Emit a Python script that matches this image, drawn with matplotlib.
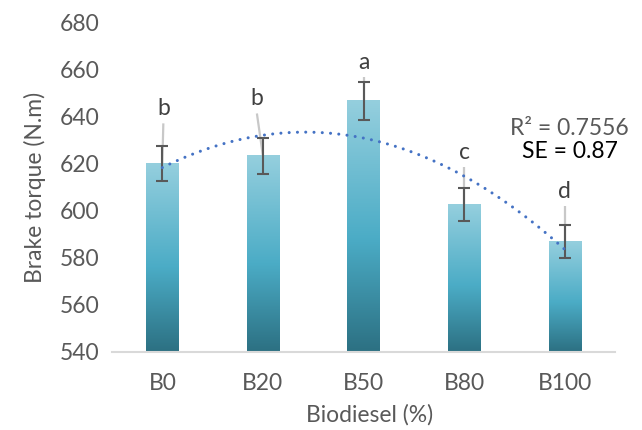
import numpy as np
import matplotlib
matplotlib.use('Agg')
import matplotlib.pyplot as plt
from matplotlib.colors import LinearSegmentedColormap

# brake torque per blend, with error and significance groups
categories = ['B0', 'B20', 'B50', 'B80', 'B100']
torque = [620.0, 623.2, 646.5, 602.4, 587.0]
torque_err = [7.5, 7.5, 8.0, 7.0, 7.0]
groups = ['b', 'b', 'a', 'c', 'd']
r2_text = 'R\u00b2 = 0.7556'
se_text = 'SE = 0.87'

# letter placement (baseline above error-bar top, horizontal nudge)
label_lift = [13.0, 14.0, 5.5, 12.5, 11.5]
label_dx = [0.01, -0.06, 0.0, 0.0, 0.0]

plt.rcParams['font.family'] = ['Lato', 'DejaVu Sans']
grey = '#595959'
fs = 16.5

fig = plt.figure(figsize=(6.42, 4.30), dpi=100)
ax = fig.add_axes([0.1745, 0.1814, 0.7835, 0.7674])
ax.set_xlim(0.5, 5.5)
ax.set_ylim(540, 680)

x = np.arange(1, len(categories) + 1)
bars = ax.bar(x, torque, width=0.32, color='none', edgecolor='none', zorder=2)

# vertical gradient fill for each bar
cmap = LinearSegmentedColormap.from_list(
    'teal', [(0.0, '#95CFDE'), (0.55, '#4BACC6'), (1.0, '#2C7082')])
grad = np.linspace(0, 1, 256).reshape(-1, 1)
ymin = ax.get_ylim()[0]
for b in bars:
    x0 = b.get_x()
    ax.imshow(grad, cmap=cmap, aspect='auto', interpolation='bicubic',
              extent=(x0, x0 + b.get_width(), ymin, b.get_height()),
              origin='upper', zorder=2)

# leader lines from group letters
for i in range(len(x)):
    base = torque[i] + torque_err[i] + label_lift[i]
    ax.plot([x[i] + label_dx[i], x[i]], [base - 3.5, torque[i]],
            color='#C8C8C8', lw=1.6, zorder=3, solid_capstyle='butt')
    ax.text(x[i] + label_dx[i], base, groups[i], ha='center', va='baseline',
            fontsize=fs, color='#404040', zorder=6)

ax.errorbar(x, torque, yerr=torque_err, fmt='none', ecolor=grey,
            elinewidth=1.5, capsize=4.3, capthick=1.5, zorder=4)

# 2nd order polynomial trendline
p = np.polyfit(x, torque, 2)
xs = np.linspace(x[0], x[-1], 300)
ax.plot(xs, np.polyval(p, xs), color='#4472C4', lw=2.2,
        linestyle=(0, (0.01, 2.7)), dash_capstyle='round', zorder=5)

ax.text(5.05, 635, r2_text, ha='center', va='center', fontsize=fs, color=grey)
ax.text(5.05, 625, se_text, ha='center', va='center', fontsize=fs, color='black')

ax.set_xticks(x)
ax.set_xticklabels(categories)
ax.set_yticks(np.arange(540, 681, 20))
ax.tick_params(length=0, labelsize=fs, labelcolor=grey)
ax.tick_params(axis='x', pad=15)
ax.tick_params(axis='y', pad=9)
for s in ['top', 'right', 'left']:
    ax.spines[s].set_visible(False)
ax.spines['bottom'].set_color('#D9D9D9')
ax.spines['bottom'].set_linewidth(1.5)

fig.text(35 / 642, 1 - 187.5 / 430, 'Brake torque (N.m)', rotation=90,
         ha='center', va='center', fontsize=fs, color=grey)
fig.text(370 / 642, 1 - 415 / 430, 'Biodiesel (%)', ha='center',
         va='center', fontsize=fs, color=grey)

fig.savefig('out.png', dpi=100)
